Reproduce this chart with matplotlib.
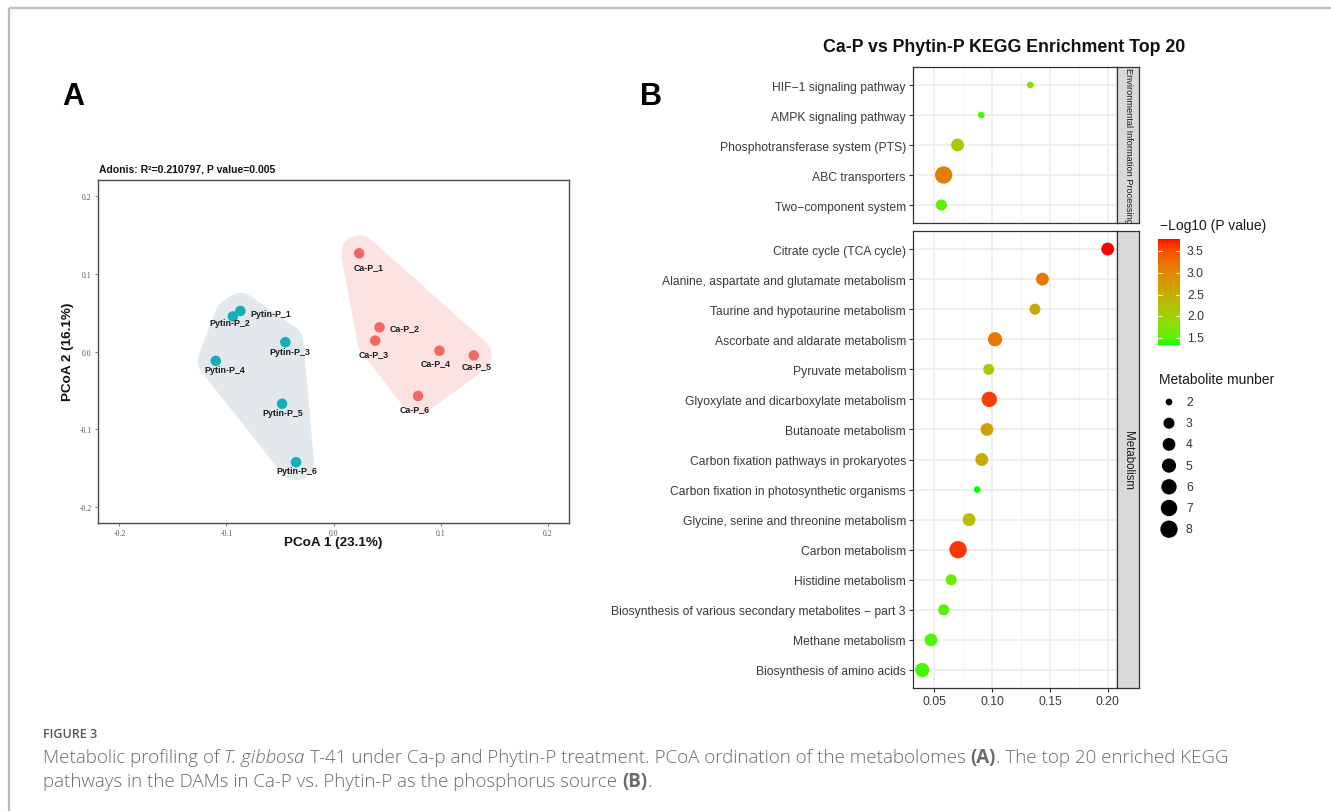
import numpy as np
import matplotlib
matplotlib.use("Agg")
import matplotlib.pyplot as plt
from matplotlib.patches import Polygon
from matplotlib.ticker import MultipleLocator, FixedLocator

plt.rcParams['font.family'] = ['Liberation Sans', 'DejaVu Sans']
plt.rcParams['axes.unicode_minus'] = False

# ---------------- data: PCoA (panel A) ----------------
sample_names = ["Ca-P_1", "Ca-P_2", "Ca-P_3", "Ca-P_4", "Ca-P_5", "Ca-P_6",
                "Pytin-P_1", "Pytin-P_2", "Pytin-P_3", "Pytin-P_4", "Pytin-P_5", "Pytin-P_6"]
sample_group = ["Ca-P"] * 6 + ["Pytin-P"] * 6
pcoa1 = [0.024, 0.043, 0.039, 0.099, 0.131, 0.079,
         -0.087, -0.094, -0.045, -0.110, -0.048, -0.035]
pcoa2 = [0.126, 0.031, 0.014, 0.001, -0.005, -0.057,
         0.052, 0.045, 0.012, -0.012, -0.067, -0.142]
pcoa_ticks = [-0.2, -0.1, 0.0, 0.1, 0.2]
adonis_text = "Adonis: R\u00b2=0.210797, P value=0.005"
pc1_label = "PCoA 1 (23.1%)"
pc2_label = "PCoA 2 (16.1%)"

# ---------------- data: KEGG enrichment (panel B) ----------------
env_terms = ["HIF\u22121 signaling pathway", "AMPK signaling pathway",
             "Phosphotransferase system (PTS)", "ABC transporters",
             "Two\u2212component system"]
env_rich = [0.133, 0.0905, 0.070, 0.058, 0.056]
env_count = [2, 2, 4, 8, 3]
env_logp = [1.85, 1.45, 2.2, 3.1, 1.5]

met_terms = ["Citrate cycle (TCA cycle)",
             "Alanine, aspartate and glutamate metabolism",
             "Taurine and hypotaurine metabolism",
             "Ascorbate and aldarate metabolism",
             "Pyruvate metabolism",
             "Glyoxylate and dicarboxylate metabolism",
             "Butanoate metabolism",
             "Carbon fixation pathways in prokaryotes",
             "Carbon fixation in photosynthetic organisms",
             "Glycine, serine and threonine metabolism",
             "Carbon metabolism",
             "Histidine metabolism",
             "Biosynthesis of various secondary metabolites \u2212 part 3",
             "Methane metabolism",
             "Biosynthesis of amino acids"]
met_rich = [0.200, 0.1435, 0.137, 0.1025, 0.097, 0.0975, 0.0955, 0.091,
            0.087, 0.080, 0.0705, 0.0645, 0.058, 0.047, 0.0395]
met_count = [4, 4, 3, 5, 3, 6, 4, 4, 2, 4, 8, 3, 3, 4, 5]
met_logp = [3.78, 3.15, 2.6, 3.15, 2.15, 3.6, 2.7, 2.6, 1.34, 2.35, 3.65,
            1.6, 1.5, 1.5, 1.45]

facet_names = ["Environmental Information Processing", "Metabolism"]
kegg_title = "Ca-P vs Phytin-P KEGG Enrichment Top 20"
color_title = "\u2212Log10 (P value)"
size_title = "Metabolite munber"
color_breaks = [1.5, 2.0, 2.5, 3.0, 3.5]
size_breaks = [2, 3, 4, 5, 6, 7, 8]
rich_ticks = [0.05, 0.10, 0.15, 0.20]

# ---------------- figure setup ----------------
W, H, DPI = 1331, 812, 100
fig = plt.figure(figsize=(W / DPI, H / DPI), dpi=DPI)
fig.patch.set_facecolor("white")


def px_axes(x0, y0, x1, y1, **kw):
    """Axes placed by pixel box (y measured from the top)."""
    return fig.add_axes([x0 / W, 1 - y1 / H, (x1 - x0) / W, (y1 - y0) / H], **kw)


overlay = fig.add_axes([0, 0, 1, 1], zorder=10)
overlay.set_xlim(0, W)
overlay.set_ylim(H, 0)
overlay.axis("off")
overlay.patch.set_alpha(0)

# page frame
overlay.plot([9, W], [9, 9], color="#BDBDBD", lw=1.6, solid_capstyle="butt")
overlay.plot([9, 9], [9, H], color="#BDBDBD", lw=1.6, solid_capstyle="butt")

# ---------------- panel A ----------------
group_colors = {"Ca-P": "#F06A62", "Pytin-P": "#14AEB6"}
hull_colors = {"Ca-P": "#FDE2E2", "Pytin-P": "#E2E8EC"}

axA = px_axes(98, 181, 569, 524)
axA.set_xlim(-0.22, 0.22)
axA.set_ylim(-0.22, 0.22)
for sp in axA.spines.values():
    sp.set_color("#4a4a4a")
    sp.set_linewidth(1.0)
axA.set_xticks(pcoa_ticks)
axA.set_yticks(pcoa_ticks)
axA.set_xticklabels([f"{t:.1f}" for t in pcoa_ticks])
axA.set_yticklabels([f"{t:.1f}" for t in pcoa_ticks])
axA.tick_params(length=2.5, width=0.6, color="#666666", labelsize=5.6,
                labelcolor="#555555", pad=2)
for lab in axA.get_xticklabels() + axA.get_yticklabels():
    lab.set_family("Liberation Serif")


def rounded_hull(pts, r, n=30):
    pts = sorted(set(map(tuple, pts)))

    def cross(o, a, b):
        return (a[0] - o[0]) * (b[1] - o[1]) - (a[1] - o[1]) * (b[0] - o[0])

    lower, upper = [], []
    for p in pts:
        while len(lower) >= 2 and cross(lower[-2], lower[-1], p) <= 0:
            lower.pop()
        lower.append(p)
    for p in reversed(pts):
        while len(upper) >= 2 and cross(upper[-2], upper[-1], p) <= 0:
            upper.pop()
        upper.append(p)
    hull = lower[:-1] + upper[:-1]
    out = []
    m = len(hull)
    for i in range(m):
        p, prv, nxt = np.array(hull[i]), np.array(hull[i - 1]), np.array(hull[(i + 1) % m])
        d_in, d_out = p - prv, nxt - p
        n_in = np.array([d_in[1], -d_in[0]]) / np.hypot(*d_in)
        n_out = np.array([d_out[1], -d_out[0]]) / np.hypot(*d_out)
        a0 = np.arctan2(n_in[1], n_in[0])
        a1 = np.arctan2(n_out[1], n_out[0])
        if a1 < a0:
            a1 += 2 * np.pi
        for a in np.linspace(a0, a1, n):
            out.append(p + r * np.array([np.cos(a), np.sin(a)]))
    return np.array(out)


x_arr = np.array(pcoa1)
y_arr = np.array(pcoa2)
grp_arr = np.array(sample_group)
for g in ["Ca-P", "Pytin-P"]:
    sel = grp_arr == g
    disp = axA.transData.transform(np.column_stack([x_arr[sel], y_arr[sel]]))
    poly_disp = rounded_hull(disp, r=18)
    poly_data = axA.transData.inverted().transform(poly_disp)
    axA.add_patch(Polygon(poly_data, closed=True, facecolor=hull_colors[g],
                          edgecolor="none", zorder=1))

for g in ["Ca-P", "Pytin-P"]:
    sel = grp_arr == g
    axA.scatter(x_arr[sel], y_arr[sel], s=(10.5 * 72 / DPI) ** 2,
                color=group_colors[g], edgecolors="none", zorder=3)

# label offsets (pixels, x right / y down) for the sample names
label_offsets = {"Ca-P_1": (9.7, 13.3), "Ca-P_2": (24.7, 0.0), "Ca-P_3": (-1.3, 13.0),
                 "Ca-P_4": (-3.7, 12.3), "Ca-P_5": (3.3, 10.3), "Ca-P_6": (-3.0, 12.7),
                 "Pytin-P_1": (30.7, 2.3), "Pytin-P_2": (-3.0, 6.3), "Pytin-P_3": (4.0, 9.0),
                 "Pytin-P_4": (9.0, 8.3), "Pytin-P_5": (0.3, 8.3), "Pytin-P_6": (0.7, 8.0)}
for nm, xv, yv in zip(sample_names, pcoa1, pcoa2):
    dx, dy = label_offsets[nm]
    axA.annotate(nm, (xv, yv), xytext=(dx * 72 / DPI, -dy * 72 / DPI),
                 textcoords="offset points", ha="center", va="center",
                 fontsize=6.4, fontweight="bold", color="#1a1a1a", zorder=4)

overlay.text(99, 170, adonis_text, fontsize=7.5, fontweight="bold",
             ha="left", va="center", color="#111111")
overlay.text(333, 543, pc1_label, fontsize=9.7, fontweight="bold",
             ha="center", va="center", color="#111111")
overlay.text(68, 352, pc2_label, fontsize=9.7, fontweight="bold", rotation=90,
             ha="center", va="center", color="#111111")
overlay.text(73, 97, "A", fontsize=22, fontweight="bold", ha="center", va="center")
overlay.text(651, 97, "B", fontsize=22, fontweight="bold", ha="center", va="center")

# ---------------- panel B ----------------
def srgb_to_lab(rgb):
    c = np.asarray(rgb, float)
    c = np.where(c <= 0.04045, c / 12.92, ((c + 0.055) / 1.055) ** 2.4)
    M = np.array([[0.4124564, 0.3575761, 0.1804375],
                  [0.2126729, 0.7151522, 0.0721750],
                  [0.0193339, 0.1191920, 0.9503041]])
    xyz = M @ c / np.array([0.95047, 1.0, 1.08883])
    f = np.where(xyz > 0.008856, np.cbrt(xyz), 7.787 * xyz + 16 / 116)
    return np.array([116 * f[1] - 16, 500 * (f[0] - f[1]), 200 * (f[1] - f[2])])


def lab_to_srgb(lab):
    L, a, b = lab
    fy = (L + 16) / 116
    fx = fy + a / 500
    fz = fy - b / 200
    f = np.array([fx, fy, fz])
    xyz = np.where(f ** 3 > 0.008856, f ** 3, (f - 16 / 116) / 7.787)
    xyz = xyz * np.array([0.95047, 1.0, 1.08883])
    Minv = np.array([[3.2404542, -1.5371385, -0.4985314],
                     [-0.9692660, 1.8760108, 0.0415560],
                     [0.0556434, -0.2040259, 1.0572252]])
    c = Minv @ xyz
    c = np.where(c <= 0.0031308, 12.92 * c, 1.055 * np.clip(c, 0, None) ** (1 / 2.4) - 0.055)
    return np.clip(c, 0, 1)


LAB_LOW = srgb_to_lab([0, 1, 0])
LAB_HIGH = srgb_to_lab([1, 0, 0])
all_logp = env_logp + met_logp
lp_min, lp_max = min(all_logp), max(all_logp)


def logp_color(v):
    t = (v - lp_min) / (lp_max - lp_min)
    return lab_to_srgb(LAB_LOW + t * (LAB_HIGH - LAB_LOW))


all_count = env_count + met_count
cnt_min, cnt_max = min(all_count), max(all_count)


def dot_size(n):
    d_px = 6.7 + 10.6 * np.sqrt((n - cnt_min) / (cnt_max - cnt_min))
    return (d_px * 72 / DPI) ** 2


all_rich = env_rich + met_rich
r_lo, r_hi = min(all_rich), max(all_rich)
r_pad = 0.05 * (r_hi - r_lo)
rich_lim = (r_lo - r_pad, r_hi + r_pad)

facets = [(env_terms, env_rich, env_count, env_logp, (68, 224)),
          (met_terms, met_rich, met_count, met_logp, (232, 689))]
x0B, x1B, xs1 = 913, 1117, 1139
for k, (terms, rich, cnt, lp, (yt, yb)) in enumerate(facets):
    ax = px_axes(x0B, yt, x1B, yb)
    n = len(terms)
    ypos = np.arange(n)[::-1]
    ax.set_xlim(*rich_lim)
    ax.set_ylim(-0.6, n - 1 + 0.6)
    ax.xaxis.set_major_locator(FixedLocator(rich_ticks))
    ax.xaxis.set_minor_locator(MultipleLocator(0.025))
    ax.set_yticks(ypos)
    ax.set_yticklabels(terms)
    ax.grid(True, which="major", color="#EBEBEB", lw=1.1, zorder=0)
    ax.grid(True, which="minor", axis="x", color="#F2F2F2", lw=0.6, zorder=0)
    ax.set_axisbelow(True)
    ax.scatter(rich, ypos, s=[dot_size(c) for c in cnt],
               color=[logp_color(v) for v in lp], edgecolors="none", zorder=3)
    for sp in ax.spines.values():
        sp.set_color("#333333")
        sp.set_linewidth(0.9)
    ax.tick_params(which="major", length=2.6, width=0.8, color="#333333",
                   labelsize=8.7, labelcolor="#3a3a3a", pad=2.5)
    ax.tick_params(which="minor", length=0)
    if k == 0:
        ax.tick_params(axis="x", which="both", length=0, labelbottom=False)
    else:
        ax.set_xticklabels([f"{t:.2f}" for t in rich_ticks])
    # facet strip
    st = px_axes(x1B, yt, xs1, yb)
    st.set_facecolor("#D9D9D9")
    st.set_xticks([])
    st.set_yticks([])
    for sp in st.spines.values():
        sp.set_color("#333333")
        sp.set_linewidth(0.9)
    st.text(0.5, 0.5, facet_names[k], rotation=-90, ha="center", va="center",
            fontsize=6.6 if k == 0 else 8.3, color="#1a1a1a",
            transform=st.transAxes, clip_on=True)

overlay.text(1004, 48, kegg_title, fontsize=12.8, fontweight="bold",
             ha="center", va="center", color="#111111")

# colour legend
overlay.text(1160, 226, color_title, fontsize=10, ha="left", va="center", color="#1a1a1a")
cb = px_axes(1158, 240, 1180, 346)
grad = np.linspace(lp_max, lp_min, 256)
cb.imshow(np.array([[logp_color(v) for v in grad]]).transpose(1, 0, 2),
          aspect="auto", extent=[0, 1, lp_min, lp_max], interpolation="bilinear")
cb.set_xlim(0, 1)
cb.set_ylim(lp_min, lp_max)
cb.axis("off")
for b in color_breaks:
    cb.plot([0, 0.2], [b, b], color="white", lw=0.8, alpha=0.8)
    cb.plot([0.8, 1], [b, b], color="white", lw=0.8, alpha=0.8)
    cb.text(1.32, b, f"{b:.1f}", transform=cb.get_yaxis_transform(),
            ha="left", va="center", fontsize=8.7, color="#333333")

# size legend
overlay.text(1159, 380, size_title, fontsize=10, ha="left", va="center", color="#1a1a1a")
for i, nb in enumerate(size_breaks):
    yy = 403 + 21.2 * i
    overlay.scatter([1169], [yy], s=dot_size(nb), color="black", edgecolors="none")
    overlay.text(1186, yy, str(nb), fontsize=8.7, ha="left", va="center", color="#333333")

# ---------------- caption ----------------
renderer = fig.canvas.get_renderer()
CAP_COLOR = "#6a6a6a"
CAP_FONT = ["Open Sans", "DejaVu Sans"]
overlay.text(43, 738, "FIGURE 3", fontsize=9, fontweight="semibold", family=CAP_FONT,
             ha="left", va="baseline", color="#555555")

caption_lines = [
    [("Metabolic profiling of ", "normal", "light"), ("T. gibbosa", "italic", "light"),
     (" T-41 under Ca-p and Phytin-P treatment. PCoA ordination of the metabolomes ", "normal", "light"),
     ("(A)", "normal", "bold"), (". The top 20 enriched KEGG", "normal", "light")],
    [("pathways in the DAMs in Ca-P vs. Phytin-P as the phosphorus source ", "normal", "light"),
     ("(B)", "normal", "bold"), (".", "normal", "light")],
]
caption_baselines = [763, 787]
for pieces, ycur in zip(caption_lines, caption_baselines):
    xcur = 43
    for txt, style, weight in pieces:
        t = overlay.text(xcur, ycur, txt, fontsize=13.5, family=CAP_FONT, style=style,
                         fontweight=weight, ha="left", va="baseline", color=CAP_COLOR)
        bb = t.get_window_extent(renderer)
        xcur += bb.width

fig.savefig("out.png", dpi=DPI, facecolor="white")
